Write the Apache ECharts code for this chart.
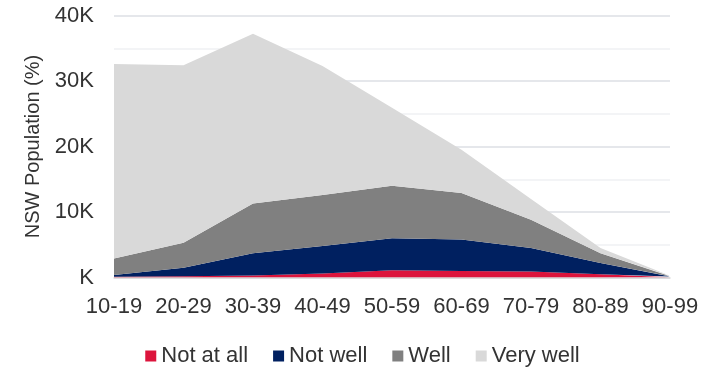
<!DOCTYPE html>
<html>
<head>
<meta charset="utf-8">
<script src="https://cdn.jsdelivr.net/npm/echarts@6/dist/echarts.min.js"></script>
<style>
html,body{margin:0;padding:0;background:#fff;}
#chart{width:725px;height:368px;}
</style>
</head>
<body>
<div id="chart"></div>
<script>
const categories = ["10-19","20-29","30-39","40-49","50-59","60-69","70-79","80-89","90-99"];
const notAtAll = [100, 200, 300, 600, 1100, 1000, 900, 500, 50];
const notWell  = [300, 1300, 3400, 4200, 4900, 4800, 3600, 1700, 100];
const well     = [2500, 3800, 7600, 7800, 8000, 7100, 4300, 1500, 50];
const veryWell = [29700, 27100, 25900, 19700, 11900, 6600, 3200, 800, 50];
const yTicks = [0, 10000, 20000, 30000, 40000];

const FONT = "'Liberation Sans', Arial, sans-serif";
const chart = echarts.init(document.getElementById('chart'), null, {renderer: 'canvas'});

function areaSeries(name, data, color) {
  return {
    name: name, type: 'line', stack: 'total', data: data,
    symbol: 'none', showSymbol: false,
    lineStyle: {width: 0, color: color},
    itemStyle: {color: color},
    areaStyle: {color: color, opacity: 1},
    emphasis: {disabled: true}
  };
}

chart.setOption({
  animation: false,
  textStyle: {fontFamily: FONT},
  grid: {left: 114, right: 55, top: 15.5, bottom: 90.5, containLabel: false},
  legend: {
    top: 340, left: 'center',
    icon: 'rect', itemWidth: 11, itemHeight: 11, itemGap: 25,
    textStyle: {fontFamily: FONT, fontSize: 22, color: '#333'},
    data: ['Not at all','Not well','Well','Very well']
  },
  xAxis: {
    type: 'category', data: categories, boundaryGap: false,
    axisLine: {show: true, lineStyle: {color: '#d9d9d9', width: 1.5}},
    axisTick: {show: false},
    axisLabel: {fontFamily: FONT, fontSize: 22, color: '#333', margin: 18, interval: 0}
  },
  yAxis: {
    type: 'value', min: yTicks[0], max: yTicks[yTicks.length-1], interval: 10000,
    name: 'NSW Population (%)', nameLocation: 'middle', nameGap: 70, nameRotate: 90,
    nameTextStyle: {fontFamily: FONT, fontSize: 20, color: '#333'},
    axisLine: {show: false}, axisTick: {show: false},
    axisLabel: {fontFamily: FONT, fontSize: 22, color: '#333', margin: 20,
      formatter: v => (v === 0 ? '' : (v/1000)) + 'K'},
    splitLine: {show: true, lineStyle: {color: '#dcdfe4', width: 1.5}},
    minorTick: {show: false, splitNumber: 2},
    minorSplitLine: {show: true, lineStyle: {color: '#f0f1f3', width: 1.5}}
  },
  series: [
    areaSeries('Not at all', notAtAll, '#dc143c'),
    areaSeries('Not well', notWell, '#002060'),
    areaSeries('Well', well, '#808080'),
    areaSeries('Very well', veryWell, '#d9d9d9')
  ]
});
</script>
</body>
</html>
